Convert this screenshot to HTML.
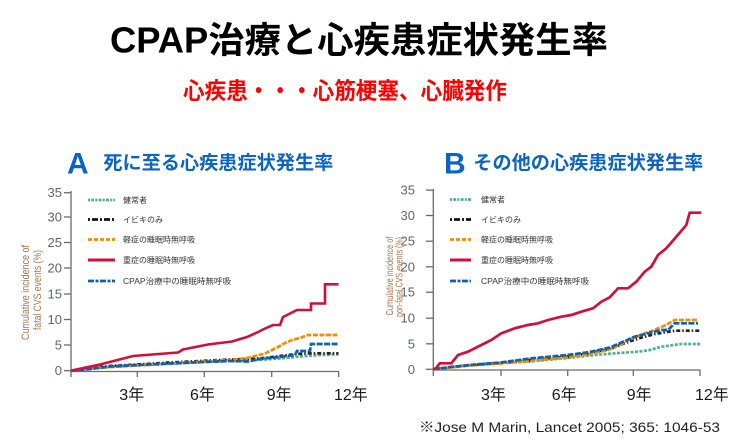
<!DOCTYPE html>
<html><head><meta charset="utf-8">
<style>
html,body{margin:0;padding:0;background:#fff;}
svg{display:block;}
.jp{font-family:"Liberation Sans","Noto Sans CJK JP",sans-serif;}
</style></head>
<body>
<svg width="740" height="443" viewBox="0 0 740 443" xmlns="http://www.w3.org/2000/svg" class="jp">
<!-- Titles -->
<text x="110" y="52.5" font-size="36" font-weight="bold" fill="#000" textLength="498" lengthAdjust="spacingAndGlyphs">CPAP治療と心疾患症状発生率</text>
<text x="183" y="98.5" font-size="23" font-weight="bold" fill="#ff0000" textLength="324" lengthAdjust="spacingAndGlyphs">心疾患・・・心筋梗塞、心臓発作</text>

<!-- Panel titles -->
<text x="67" y="173.3" font-size="30" font-weight="bold" fill="#0b63c5">A</text>
<text x="103.3" y="169" font-size="19" font-weight="bold" fill="#0b63c5" textLength="230" lengthAdjust="spacingAndGlyphs">死に至る心疾患症状発生率</text>
<text x="444" y="173.3" font-size="30" font-weight="bold" fill="#0b63c5">B</text>
<text x="473.3" y="169" font-size="19" font-weight="bold" fill="#0b63c5" textLength="230" lengthAdjust="spacingAndGlyphs">その他の心疾患症状発生率</text>

<!-- ===== Chart A axes ===== -->
<g stroke="#6a6a6a" stroke-width="1.3" fill="none">
  <line x1="71" y1="191" x2="71" y2="377"/>
  <line x1="71" y1="371.5" x2="339" y2="371.5"/>
  <line x1="137.3" y1="371.5" x2="137.3" y2="377"/>
  <line x1="204.3" y1="371.5" x2="204.3" y2="377"/>
  <line x1="271.7" y1="371.5" x2="271.7" y2="377"/>
  <line x1="338.7" y1="371.5" x2="338.7" y2="377"/>
  <line x1="64" y1="192.7" x2="71" y2="192.7"/>
  <line x1="64" y1="217" x2="71" y2="217"/>
  <line x1="64" y1="242.5" x2="71" y2="242.5"/>
  <line x1="64" y1="268" x2="71" y2="268"/>
  <line x1="64" y1="294" x2="71" y2="294"/>
  <line x1="64" y1="319.5" x2="71" y2="319.5"/>
  <line x1="64" y1="345" x2="71" y2="345"/>
  <line x1="64" y1="370.7" x2="71" y2="370.7"/>
</g>
<g font-size="13" fill="#5e6670" text-anchor="end">
  <text x="62" y="197.2">35</text>
  <text x="62" y="221.5">30</text>
  <text x="62" y="247">25</text>
  <text x="62" y="272.5">20</text>
  <text x="62" y="298.5">15</text>
  <text x="62" y="324">10</text>
  <text x="62" y="349.5">5</text>
  <text x="62" y="375.2">0</text>
</g>
<g font-size="11" fill="#a8744c" text-anchor="middle">
  <text transform="translate(29,292.5) rotate(-90)" textLength="95" lengthAdjust="spacingAndGlyphs">Cumulative incidence of</text>
  <text transform="translate(41,290) rotate(-90)" textLength="80" lengthAdjust="spacingAndGlyphs">fatal CVS events (%)</text>
</g>
<g font-size="16" fill="#1a1a1a">
  <text x="119.3" y="400">3年</text>
  <text x="190" y="400">6年</text>
  <text x="266.7" y="400">9年</text>
  <text x="334" y="400">12年</text>
</g>

<!-- Legend A -->
<g stroke-width="2.8" fill="none">
  <line x1="88" y1="200" x2="115" y2="200" stroke="#4fb38c" stroke-dasharray="2 1.2 3 1.2"/>
  <line x1="88" y1="219.5" x2="115" y2="219.5" stroke="#111" stroke-dasharray="2 2 6 2"/>
  <line x1="88" y1="239.5" x2="115" y2="239.5" stroke="#f28c00" stroke-dasharray="4 2"/>
  <line x1="88" y1="260" x2="115" y2="260" stroke="#d0103a" stroke-width="3"/>
  <line x1="88" y1="281" x2="115" y2="281" stroke="#1060b0" stroke-dasharray="6 1.5 3 1.5"/>
</g>
<g font-size="8" fill="#333">
  <text x="123" y="203">健常者</text>
  <text x="123" y="222.5">イビキのみ</text>
  <text x="123" y="242.5">軽症の睡眠時無呼吸</text>
  <text x="123" y="263">重症の睡眠時無呼吸</text>
  <text x="123" y="284" textLength="108" lengthAdjust="spacingAndGlyphs">CPAP治療中の睡眠時無呼吸</text>
</g>

<!-- Series A -->
<g fill="none" stroke-width="2.7" stroke-linejoin="miter">
  <polyline stroke="#4fb38c" stroke-dasharray="3 1.5" points="71,370.7 90,368.8 110,367 137,365.5 170,363.8 204,362 230,361 248,360.5 265,359.5 282,358.3 300,356.5 320,355 338.5,354.3"/>
  <polyline stroke="#222" stroke-dasharray="4 2 1.5 2" points="71,370.7 90,368 110,366 137,364.5 170,362.5 204,360.8 230,359.5 248,359 265,358 280,356 297,354 310,353.3 338.5,353.3"/>
  <polyline stroke="#f28c00" stroke-dasharray="5 1.5" points="71,370.7 90,368.5 110,367 137,365.5 170,363.5 204,361.5 230,360 247,358 255,356 265,353.5 272,350 278,347 285,343 292,340 300,338 308,335 338.5,335"/>
  <polyline stroke="#1060b0" stroke-dasharray="6 1.5" points="71,370.7 90,369 110,366.5 137,365 170,363.5 204,362 230,361 248,361.5 260,359 265,358.3 280,357 295,355 297,351 310,351 311,344 338.5,344"/>
  <polyline stroke="#d0103a" stroke-width="2.6" points="71,370.7 100,364.5 133,356 178,352.5 183,349.5 208,344.5 232,341.5 247,337 257,332.5 265,328.5 273,325 280,325 283,317 287,315 297,310 311,310 311,303.5 325,303.5 325,284.3 338.5,284.3"/>
</g>

<!-- ===== Chart B axes ===== -->
<g stroke="#6a6a6a" stroke-width="1.3" fill="none">
  <line x1="433.3" y1="189" x2="433.3" y2="376"/>
  <line x1="433.3" y1="370" x2="700.5" y2="370"/>
  <line x1="501" y1="370" x2="501" y2="376"/>
  <line x1="567.7" y1="370" x2="567.7" y2="376"/>
  <line x1="633.3" y1="370" x2="633.3" y2="376"/>
  <line x1="700" y1="370" x2="700" y2="376"/>
  <line x1="426" y1="190.1" x2="433.3" y2="190.1"/>
  <line x1="426" y1="215.5" x2="433.3" y2="215.5"/>
  <line x1="426" y1="241.2" x2="433.3" y2="241.2"/>
  <line x1="426" y1="266.8" x2="433.3" y2="266.8"/>
  <line x1="426" y1="292.2" x2="433.3" y2="292.2"/>
  <line x1="426" y1="318.2" x2="433.3" y2="318.2"/>
  <line x1="426" y1="343.8" x2="433.3" y2="343.8"/>
  <line x1="426" y1="369.3" x2="433.3" y2="369.3"/>
</g>
<g font-size="13" fill="#5e6670" text-anchor="end">
  <text x="415" y="194.6">35</text>
  <text x="415" y="220">30</text>
  <text x="415" y="245.7">25</text>
  <text x="415" y="271.3">20</text>
  <text x="415" y="296.7">15</text>
  <text x="415" y="322.7">10</text>
  <text x="415" y="348.3">5</text>
  <text x="415" y="373.8">0</text>
</g>
<g font-size="10.5" fill="#a8744c" text-anchor="middle">
  <text transform="translate(393,276) rotate(-90)" textLength="79" lengthAdjust="spacingAndGlyphs">Cumulative incidence of</text>
  <text transform="translate(402.5,277) rotate(-90)" textLength="80" lengthAdjust="spacingAndGlyphs">non-fatal CVS events (%)</text>
</g>
<g font-size="16" fill="#1a1a1a">
  <text x="481" y="400">3年</text>
  <text x="551.7" y="400">6年</text>
  <text x="626.7" y="400">9年</text>
  <text x="695" y="400">12年</text>
</g>

<!-- Legend B -->
<g stroke-width="2.8" fill="none">
  <line x1="450" y1="199.5" x2="471" y2="199.5" stroke="#4fb38c" stroke-dasharray="2 1.2 3 1.2"/>
  <line x1="450" y1="219.5" x2="471" y2="219.5" stroke="#111" stroke-dasharray="2 2 6 2"/>
  <line x1="450" y1="239.5" x2="471" y2="239.5" stroke="#f28c00" stroke-dasharray="4 2"/>
  <line x1="450" y1="260" x2="471" y2="260" stroke="#d0103a" stroke-width="3"/>
  <line x1="450" y1="281" x2="471" y2="281" stroke="#1060b0" stroke-dasharray="6 1.5 3 1.5"/>
</g>
<g font-size="8" fill="#333">
  <text x="481" y="202.5">健常者</text>
  <text x="481" y="222.5">イビキのみ</text>
  <text x="481" y="242.5">軽症の睡眠時無呼吸</text>
  <text x="481" y="263">重症の睡眠時無呼吸</text>
  <text x="481" y="284" textLength="108" lengthAdjust="spacingAndGlyphs">CPAP治療中の睡眠時無呼吸</text>
</g>

<!-- Series B -->
<g fill="none" stroke-width="2.7" stroke-linejoin="miter">
  <polyline stroke="#4fb38c" stroke-dasharray="3 1.5" points="433.3,369.3 450,367.5 480,364 501,363 530,361.5 567.7,358 590,355.5 614.7,353.3 638,351.7 650,350 661.3,346.7 681.3,344 701.3,344"/>
  <polyline stroke="#222" stroke-dasharray="4 2 1.5 2" points="433.3,369.3 450,367.3 470,365.3 501,363 530,360 567.7,356.5 590,353 610,349 625,343 640,338 655,334 674.7,330.7 701,330.7"/>
  <polyline stroke="#f28c00" stroke-dasharray="5 1.5" points="433.3,369.3 450,367.5 470,365.5 501,363.5 530,361 567.7,357.5 590,354 608,350 620,345 628,340 636,337 645,333.3 652,331 658,328.3 666,325 674.7,320 698,320"/>
  <polyline stroke="#1060b0" stroke-dasharray="6 1.5" points="433.3,369.3 450,367 470,365 501,362.5 530,358.5 567.7,355 590,352 610,347.5 625,341 634.7,336.7 645,334 661.3,330 668,330 674.7,323.3 698,323.3"/>
  <polyline stroke="#d0103a" stroke-width="2.7" points="433.3,369.3 436,368.3 439.7,363.3 451.3,363.3 458,355 468,351.7 481.3,345 491.3,340 501.3,333.3 514.7,328.3 528,325 538,323.3 548,320 561.3,316.7 571.3,315 581.3,311.7 593,308.3 601.3,301.7 609.7,297.3 618,288.3 628,288.3 636.3,281.7 644.7,271.7 651.3,266.7 658,255 666.3,248.3 676.3,236.7 686.3,225 689.7,212.7 701.3,212.7"/>
</g>

<!-- Citation -->
<text x="419" y="432" font-size="14" fill="#222" textLength="301" lengthAdjust="spacingAndGlyphs">※Jose M Marin, Lancet 2005; 365: 1046-53</text>
</svg>
</body></html>
